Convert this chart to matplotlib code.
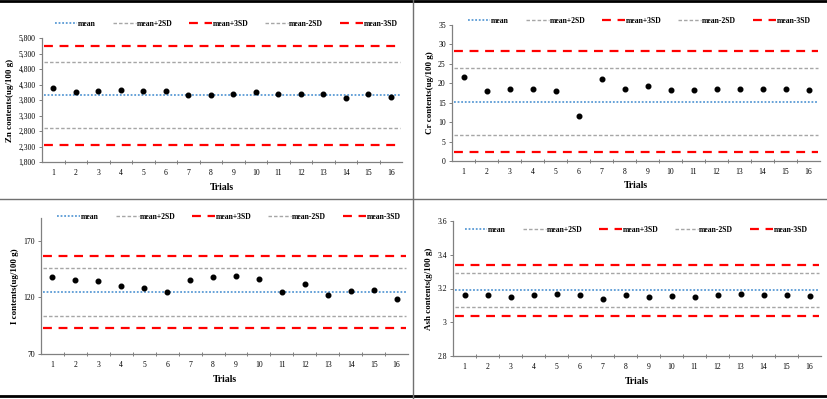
import numpy as np
import matplotlib.pyplot as plt
from matplotlib.lines import Line2D
from matplotlib.ticker import FuncFormatter

plt.rcParams['font.family'] = ['Liberation Serif', 'DejaVu Serif']

# data
trials = list(range(1, 17))

zn_values = [4186, 4058, 4090, 4111, 4090, 4090, 3950, 3972, 4004, 4068, 3982, 4004, 3982, 3875, 4004, 3897]
zn_lines = [3950, 5025, 5552, 2897, 2359]   # mean, +2SD, +3SD, -2SD, -3SD

cr_values = [21.6, 17.9, 18.6, 18.5, 17.9, 11.6, 21.2, 18.5, 19.4, 18.2, 18.2, 18.5, 18.6, 18.6, 18.5, 18.3]
cr_lines = [15.2, 24.0, 28.3, 6.6, 2.4]

i_values = [137.6, 135.0, 134.1, 129.7, 128.2, 124.4, 135.6, 137.9, 139.1, 136.2, 124.4, 131.7, 121.7, 125.6, 126.8, 118.8]
i_lines = [124.4, 145.6, 156.8, 103.2, 92.9]

ash_values = [3.164, 3.160, 3.150, 3.164, 3.168, 3.160, 3.140, 3.160, 3.150, 3.156, 3.150, 3.164, 3.170, 3.164, 3.164, 3.156]
ash_lines = [3.191, 3.291, 3.342, 3.089, 3.040]

line_names = ['mean', 'mean+2SD', 'mean+3SD', 'mean-2SD', 'mean-3SD']
line_styles = [
    dict(color='#5b9bd5', linestyle=(0, (1, 1)), linewidth=1.3),
    dict(color='#a6a6a6', linestyle=(0, (2.5, 1.5)), linewidth=1.0),
    dict(color='#ff0000', linestyle=(0, (4, 3)), linewidth=1.6),
    dict(color='#a6a6a6', linestyle=(0, (2.5, 1.5)), linewidth=1.0),
    dict(color='#ff0000', linestyle=(0, (4, 3)), linewidth=1.6),
]

W, H = 827, 399
fig = plt.figure(figsize=(W / 100, H / 100), dpi=100)


def px_axes(left, top, right, bottom):
    return fig.add_axes([left / W, 1 - bottom / H, (right - left) / W, (bottom - top) / H])


def draw_panel(box, values, lines, ylim, yticks, ylabel, fmt, legend_y, legend_x):
    ax = px_axes(*box)
    x = np.arange(len(trials))
    for val, st in zip(lines, line_styles):
        ax.plot([-0.5 + 0.1, len(trials) - 0.5 - 0.1], [val, val], **st)
    ax.scatter(x, values, s=11, color='black', zorder=5)
    ax.set_xlim(-0.5, len(trials) - 0.5)
    ax.set_ylim(*ylim)
    ax.set_yticks(yticks)
    ax.yaxis.set_major_formatter(FuncFormatter(fmt))
    ax.set_xticks(x)
    ax.set_xticklabels([str(t) for t in trials])
    ax.set_xticks(np.arange(0.5, len(trials) - 1, 1), minor=True)
    ax.tick_params(axis='x', which='major', length=0, labelsize=5.5, pad=5)
    ax.tick_params(axis='x', which='minor', direction='inout', length=3, width=0.7, color='#808080')
    ax.tick_params(axis='y', direction='out', length=2.5, width=0.7, color='#808080', labelsize=5.5, pad=2)
    for s in ['top', 'right']:
        ax.spines[s].set_visible(False)
    for s in ['left', 'bottom']:
        ax.spines[s].set_color('#808080')
        ax.spines[s].set_linewidth(0.9)
    ax.set_xlabel('Trials', fontsize=7, fontweight='bold', labelpad=4)
    ax.set_ylabel(ylabel, fontsize=6.5, fontweight='bold', labelpad=3)
    handles = [Line2D([0], [0], **st) for st in line_styles]
    ax.legend(handles, line_names, loc='center', ncol=5, frameon=False,
              bbox_to_anchor=(legend_x / W, 1 - legend_y / H), bbox_transform=fig.transFigure,
              handlelength=3.0, handletextpad=0.1, columnspacing=2.2,
              prop={'weight': 'bold', 'size': 5.5})
    return ax


draw_panel((42, 38, 402, 162), zn_values, zn_lines, (1800, 5800), range(1800, 5801, 500),
           'Zn contents(ug/100 g)', lambda v, p: f'{int(v):,}', 24, 226)
draw_panel((452, 25, 820, 161), cr_values, cr_lines, (0, 35), range(0, 36, 5),
           'Cr contents(ug/100 g)', lambda v, p: f'{int(v)}', 21, 639)
draw_panel((41, 218, 408, 354), i_values, i_lines, (70, 190), [70, 120, 170],
           'I contents(ug/100 g)', lambda v, p: f'{int(v)}', 217, 229)
draw_panel((453, 221, 821, 356), ash_values, ash_lines, (2.8, 3.6), [2.8, 3.0, 3.2, 3.4, 3.6],
           'Ash contents(g/100 g)', lambda v, p: f'{v:g}', 230, 636)

# frame lines between panels
fig.add_artist(Line2D([0, 1], [1 - 1 / H, 1 - 1 / H], color='black', linewidth=2, transform=fig.transFigure))
fig.add_artist(Line2D([0, 1], [1 - 395.5 / H, 1 - 395.5 / H], color='black', linewidth=2, transform=fig.transFigure))
fig.add_artist(Line2D([0, 1], [1 - 198.5 / H, 1 - 198.5 / H], color='#707070', linewidth=1, transform=fig.transFigure))
fig.add_artist(Line2D([413 / W, 413 / W], [0, 1], color='#707070', linewidth=1, transform=fig.transFigure))

fig.savefig('out.png', dpi=100)
